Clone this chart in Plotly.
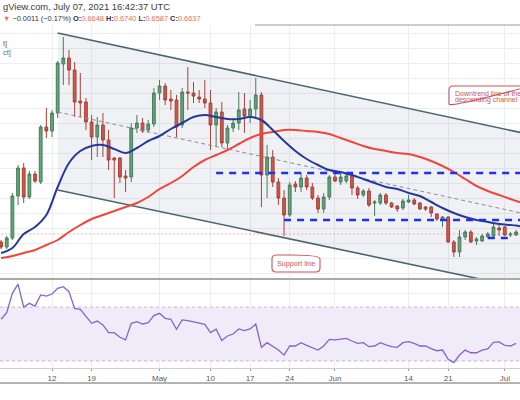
import pandas as pd
import plotly.graph_objects as go

W, H = 520, 400

# daily candles, Apr 3 -> Jul 3 2021
dates = pd.date_range("2021-04-03", periods=92, freq="D")

open_ = [0.715, 0.690, 0.735, 0.945, 1.085, 0.940, 1.055, 1.015, 1.290, 1.270, 1.360, 1.605, 1.635, 1.575,
         1.420, 1.415, 1.315, 1.240, 1.300, 1.225, 1.135, 1.135, 1.045, 1.040, 1.285, 1.310, 1.275, 1.305,
         1.460, 1.495, 1.430, 1.425, 1.300, 1.465, 1.460, 1.440, 1.430, 1.410, 1.300, 1.365, 1.210, 1.285,
         1.310, 1.380, 1.345, 1.380, 1.450, 1.050, 1.140, 1.015, 0.935, 0.850, 1.005, 0.990, 1.035, 0.990,
         0.935, 0.880, 0.940,
         1.040, 1.015, 1.020, 1.045, 0.985, 0.950, 0.970, 0.910, 0.910, 0.950, 0.910, 0.895, 0.885, 0.915,
         0.925, 0.910, 0.890, 0.890, 0.855, 0.825, 0.840, 0.715, 0.665, 0.740, 0.765, 0.720, 0.720, 0.740,
         0.745, 0.785,
         0.790, 0.750, 0.750]
high = [0.725, 0.745, 0.960, 1.100, 1.110, 1.070, 1.070, 1.300, 1.385, 1.375, 1.620, 1.740, 1.675, 1.615,
        1.560, 1.435, 1.350, 1.340, 1.360, 1.275, 1.140, 1.140, 1.075, 1.310, 1.350, 1.335, 1.325, 1.485,
        1.525, 1.510, 1.475, 1.450, 1.485, 1.590, 1.515, 1.475, 1.525, 1.475, 1.385, 1.415, 1.300, 1.335,
        1.465, 1.460, 1.425, 1.535, 1.465, 1.200, 1.175, 1.035, 0.975, 1.015, 1.020, 1.060, 1.050, 1.010,
        0.950, 0.960, 1.050,
        1.060, 1.060, 1.060, 1.060, 0.995, 0.980, 0.985, 0.925, 0.960, 0.960, 0.915, 0.900, 0.930, 0.950,
        0.935, 0.915, 0.895, 0.895, 0.860, 0.845, 0.845, 0.725, 0.775, 0.775, 0.775, 0.740, 0.755, 0.765,
        0.805, 0.800,
        0.795, 0.765, 0.775]
low = [0.680, 0.680, 0.725, 0.900, 0.910, 0.930, 1.010, 1.005, 1.235, 1.240, 1.335, 1.500, 1.500, 1.340,
       1.340, 1.275, 1.125, 1.140, 1.140, 1.075, 0.935, 1.010, 0.965, 1.015, 1.260, 1.260, 1.260, 1.290,
       1.425, 1.400, 1.375, 1.240, 1.285, 1.375, 1.410, 1.410, 1.385, 1.175, 1.190, 1.190, 1.175, 1.265,
       1.275, 1.260, 1.310, 1.340, 0.890, 0.935, 0.990, 0.900, 0.745, 0.840, 0.965, 0.965, 0.975, 0.925,
       0.860, 0.860, 0.925,
       1.015, 1.000, 1.010, 0.950, 0.930, 0.940, 0.890, 0.845, 0.900, 0.900, 0.885, 0.865, 0.875, 0.910,
       0.900, 0.875, 0.870, 0.840, 0.820, 0.790, 0.710, 0.640, 0.640, 0.725, 0.710, 0.700, 0.715, 0.735,
       0.740, 0.745,
       0.745, 0.740, 0.745]
close = [0.690, 0.735, 0.945, 1.085, 0.940, 1.055, 1.020, 1.290, 1.270, 1.360, 1.610, 1.635, 1.575, 1.415,
         1.410, 1.315, 1.240, 1.300, 1.225, 1.125, 1.125, 1.040, 1.035, 1.285, 1.310, 1.270, 1.305, 1.460,
         1.495, 1.425, 1.420, 1.290, 1.465, 1.460, 1.445, 1.430, 1.410, 1.300, 1.365, 1.210, 1.285, 1.310,
         1.375, 1.345, 1.380, 1.450, 1.050, 1.140, 1.015, 0.935, 0.850, 1.000, 0.990, 1.035, 0.990, 0.935,
         0.880, 0.940, 1.040,
         1.020, 1.040, 1.045, 0.985, 0.950, 0.970, 0.900, 0.915, 0.950, 0.910, 0.890, 0.880, 0.920, 0.925,
         0.905, 0.880, 0.880, 0.860, 0.830, 0.840, 0.715, 0.665, 0.740, 0.765, 0.715, 0.730, 0.745, 0.755,
         0.790, 0.775,
         0.750, 0.755, 0.765]

# moving averages read every second day
ma_dates = list(pd.date_range("2021-04-03", "2021-07-02", freq="2D")) + \
    [pd.Timestamp("2021-07-03"), pd.Timestamp("2021-07-03 18:00")]
ema20 = [0.660, 0.685, 0.755, 0.790, 0.850, 0.990, 1.110, 1.170, 1.195, 1.200, 1.180, 1.160, 1.185, 1.220,
         1.245, 1.280, 1.310, 1.340, 1.350, 1.340, 1.330, 1.330, 1.340, 1.325, 1.275, 1.220, 1.170, 1.130,
         1.100, 1.075,
         1.065, 1.050, 1.030, 1.010, 0.990, 0.980, 0.960, 0.945, 0.915, 0.885, 0.860, 0.840, 0.825, 0.815,
         0.805, 0.800, 0.797, 0.793]
sma50 = [0.635, 0.645, 0.660, 0.675, 0.700, 0.725, 0.765, 0.800, 0.830, 0.850, 0.870, 0.890, 0.910, 0.940,
         0.980, 1.010, 1.045, 1.090, 1.125, 1.150, 1.175, 1.205, 1.235, 1.255, 1.265, 1.275, 1.275, 1.270,
         1.265, 1.255,
         1.235, 1.215, 1.195, 1.180, 1.170, 1.160, 1.155, 1.140, 1.120, 1.095, 1.065, 1.030, 0.995, 0.970,
         0.950, 0.930, 0.920, 0.913]

rsi = [60.9, 65.8, 80.1, 87.0, 69.8, 72.7, 70.7, 78.9, 78.1, 79.6, 83.8, 85.0, 81.3, 69.0, 68.3, 63.3,
       57.9, 59.6, 56.7, 51.0, 51.0, 47.6, 45.6, 57.9, 59.1, 57.4, 58.4, 63.6,
       65.3, 61.6, 60.9, 53.5, 60.4, 59.9, 59.1, 58.4, 57.2, 51.0, 53.5, 45.1, 48.5, 50.0, 53.7, 52.5,
       53.7, 57.4, 40.1, 43.6, 41.1, 38.1, 34.4, 41.1, 41.1, 43.6, 41.6, 39.9, 38.1, 41.1, 46.0,
       45.6, 46.0, 46.8, 44.8, 43.1, 43.6, 40.6, 41.1, 43.6, 41.9, 40.6, 40.1, 43.6, 44.3, 43.1, 41.1,
       41.1, 39.1, 37.6, 38.1, 31.2, 28.8, 34.4, 38.1, 36.1, 36.1, 38.1, 38.9, 43.8, 44.1,
       41.6, 41.1, 43.1]

# descending channel drawing
channel_dates = ["2021-04-13", "2021-07-05"]
channel_upper = [1.760, 1.255]
channel_mid = [1.365, 0.853]
channel_lower = [0.975, 0.480]

# horizontal range levels (start date, end date, price)
levels = [("2021-05-11", "2021-07-05", 1.060),
          ("2021-05-23", "2021-07-05", 0.825),
          ("2021-06-28", "2021-07-02 12:00", 0.735)]
last_price = 0.755

tick_dates = ["2021-04-12", "2021-04-19", "2021-05-01", "2021-05-10", "2021-05-17",
              "2021-05-24", "2021-06-01", "2021-06-14", "2021-06-21", "2021-07-01"]
tick_text = ["12", "19", "May", "10", "17", "24", "Jun", "14", "21", "Jul"]

x_range = ["2021-04-02 19:30", "2021-07-03 16:30"]


def px(X):
    return X / W


def py(Y):
    return 1 - Y / H


def path(cmds):
    # cmds: list of (letter, [x, y, ...]) in pixels -> paper path string
    out = []
    for c, pts in cmds:
        if c == "Z":
            out.append("Z")
            continue
        coords = []
        for i in range(0, len(pts), 2):
            coords.append(f"{px(pts[i]):.5f},{py(pts[i + 1]):.5f}")
        out.append(c + " " + " ".join(coords))
    return " ".join(out)


fig = go.Figure()

# channel fill
fig.add_trace(go.Scatter(
    x=[channel_dates[0], channel_dates[1], channel_dates[1], channel_dates[0]],
    y=[channel_upper[0], channel_upper[1], channel_lower[1], channel_lower[0]],
    fill="toself", fillcolor="rgba(118,132,152,0.11)", mode="lines",
    line=dict(width=0), hoverinfo="skip"))
fig.add_trace(go.Scatter(x=channel_dates, y=channel_mid, mode="lines",
                         line=dict(color="#8e8e8e", width=1, dash="4px,3px"), hoverinfo="skip"))
for ys in (channel_upper, channel_lower):
    fig.add_trace(go.Scatter(x=channel_dates, y=ys, mode="lines",
                             line=dict(color="#4b6572", width=1.6), hoverinfo="skip"))

fig.add_trace(go.Scatter(x=[dates[0], channel_dates[1]], y=[last_price, last_price], mode="lines",
                         line=dict(color="rgba(230,90,90,0.45)", width=1, dash="2px,2px"),
                         hoverinfo="skip"))

fig.add_trace(go.Scatter(x=ma_dates, y=sma50, mode="lines", line_shape="spline",
                         line=dict(color="#ef4638", width=2), hoverinfo="skip"))
fig.add_trace(go.Scatter(x=ma_dates, y=ema20, mode="lines", line_shape="spline",
                         line=dict(color="#25399a", width=2), hoverinfo="skip"))

fig.add_trace(go.Candlestick(
    x=dates, open=open_, high=high, low=low, close=close,
    increasing=dict(line=dict(color="#437d56", width=1), fillcolor="#63a677"),
    decreasing=dict(line=dict(color="#ab3d32", width=1), fillcolor="#d9533f"),
    whiskerwidth=0, hoverinfo="skip"))

for x0, x1, lvl in levels:
    fig.add_trace(go.Scatter(x=[x0, x1], y=[lvl, lvl], mode="lines",
                             line=dict(color="#1e33e8", width=2.3, dash="7px,6px"), hoverinfo="skip"))

# RSI pane
fig.add_trace(go.Scatter(x=dates, y=rsi, mode="lines", xaxis="x2", yaxis="y2",
                         line=dict(color="#8a63c8", width=1.3), hoverinfo="skip"))

shapes = [
    dict(type="rect", xref="paper", yref="y2", x0=0, x1=1, y0=30, y1=70,
         fillcolor="rgba(126,87,194,0.12)", line=dict(width=0), layer="below"),
    dict(type="line", xref="paper", yref="y2", x0=0, x1=1, y0=70, y1=70,
         line=dict(color="rgba(126,87,194,0.4)", width=1, dash="3px,3px")),
    dict(type="line", xref="paper", yref="y2", x0=0, x1=1, y0=30, y1=30,
         line=dict(color="rgba(126,87,194,0.4)", width=1, dash="3px,3px")),
    # pane separators
    dict(type="line", xref="paper", yref="paper", x0=0, x1=1, y0=py(279), y1=py(279),
         line=dict(color="#a9a9a9", width=2)),
    dict(type="line", xref="paper", yref="paper", x0=0, x1=1, y0=py(383), y1=py(383),
         line=dict(color="#9a9a9a", width=1.5)),
    dict(type="line", xref="paper", yref="paper", x0=px(255), x1=1, y0=py(25), y1=py(25),
         line=dict(color="#9c9c9c", width=1)),
]

callout = "#c4585c"
shapes.append(dict(type="path", xref="paper", yref="paper", fillcolor="white",
                   line=dict(color=callout, width=1.1),
                   path=path([("M", [453, 86]), ("L", [530, 86, 530, 108, 483, 108, 468, 120, 477, 108, 453, 108]),
                              ("Q", [449, 108, 449, 104]), ("L", [449, 90]), ("Q", [449, 86, 453, 86]), ("Z", [])])))
shapes.append(dict(type="path", xref="paper", yref="paper", fillcolor="white",
                   line=dict(color=callout, width=1.1),
                   path=path([("M", [276, 255]), ("L", [291.5, 255, 295.5, 246, 299.5, 255, 316, 255]),
                              ("Q", [320, 255, 320, 259]), ("L", [320, 268]), ("Q", [320, 272, 316, 272]),
                              ("L", [276, 272]), ("Q", [272, 272, 272, 268]), ("L", [272, 259]),
                              ("Q", [272, 255, 276, 255]), ("Z", [])])))

red_txt = "#ee6b5e"
annotations = [
    dict(x=px(0.5), y=py(7), xanchor="left", yanchor="middle",
         text="gView.com, July 07, 2021 16:42:37 UTC",
         font=dict(size=9.4, color="#3c3c3c")),
    dict(x=px(1), y=py(18), xanchor="left", yanchor="middle",
         text=(f"<span style='color:{red_txt}'>▼</span> −0.0011 (−0.17%) "
               f"<b>O:</b><span style='color:{red_txt}'>0.6648</span> "
               f"<b>H:</b><span style='color:{red_txt}'>0.6740</span> "
               f"<b>L:</b><span style='color:{red_txt}'>0.6587</span> "
               f"<b>C:</b><span style='color:{red_txt}'>0.6637</span>"),
         font=dict(size=7.4, color="#333333")),
    dict(x=px(0.5), y=py(43), xanchor="left", yanchor="middle", text="t]",
         font=dict(size=7.5, color="#6a6a6a")),
    dict(x=px(0.5), y=py(52), xanchor="left", yanchor="middle", text="ct]",
         font=dict(size=7.5, color="#6a6a6a")),
    dict(x=px(453), y=py(93.5), xanchor="left", yanchor="middle", text="Downtrend line of the",
         font=dict(size=7, color=callout)),
    dict(x=px(453), y=py(100.5), xanchor="left", yanchor="middle", text="descending channel",
         font=dict(size=7, color=callout)),
    dict(x=px(296), y=py(263.5), xanchor="center", yanchor="middle", text="Support line",
         font=dict(size=7.2, color=callout)),
]
for a in annotations:
    a.update(xref="paper", yref="paper", showarrow=False)

grid = "#eceef2"
fig.update_layout(
    width=W, height=H,
    margin=dict(l=0, r=0, t=0, b=0),
    paper_bgcolor="white", plot_bgcolor="white",
    showlegend=False,
    font=dict(family="Liberation Sans, Arial, sans-serif"),
    shapes=shapes,
    annotations=annotations,
    xaxis=dict(domain=[0, 1], anchor="y", range=x_range, type="date",
               tickvals=tick_dates, showticklabels=False, showgrid=True, gridcolor=grid,
               zeroline=False, rangeslider=dict(visible=False), automargin=False, fixedrange=True),
    xaxis2=dict(domain=[0, 1], anchor="y2", range=x_range, type="date", matches="x",
                tickvals=tick_dates, ticktext=tick_text, ticks="outside", ticklen=2,
                tickcolor="#9a9a9a", tickfont=dict(size=8, color="#5a5a5a"),
                showgrid=True, gridcolor=grid, showline=True, linecolor="#cfcfcf",
                zeroline=False, automargin=False, fixedrange=True),
    yaxis=dict(domain=[py(278), py(25)], range=[0.535, 1.800], tick0=0.56, dtick=0.075,
               showticklabels=False, showgrid=True, gridcolor=grid, zeroline=False,
               automargin=False, fixedrange=True),
    yaxis2=dict(domain=[py(368), py(280)], range=[24.8, 90], tickvals=[40, 50, 60, 80],
                showticklabels=False, showgrid=True, gridcolor=grid, zeroline=False,
                automargin=False, fixedrange=True),
)

# page body has a default 8px margin; drop it so the figure sits at the window corner
fig.write_html("out.html", config=dict(displayModeBar=False),
               post_script="document.body.style.margin='0px';")
